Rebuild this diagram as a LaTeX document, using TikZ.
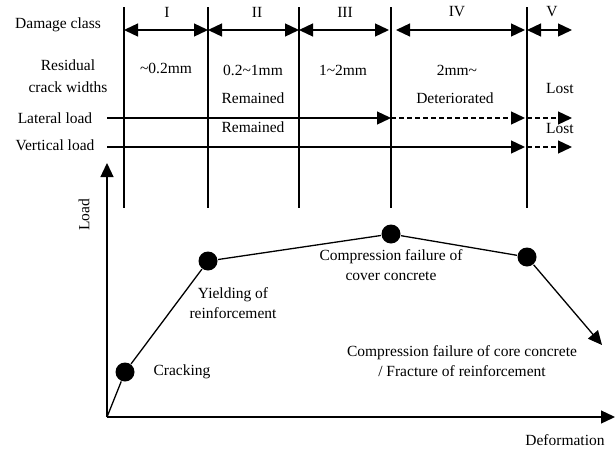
\documentclass[tikz,border=0pt]{standalone}
\usepackage{fontspec}
\setmainfont{Liberation Serif}
\usetikzlibrary{arrows.meta}

\begin{document}
\begin{tikzpicture}[x=1pt, y=-1pt, line width=1.3pt,
    every node/.style={font=\fontsize{15.5}{20}\selectfont, inner sep=0pt, align=center},
    tip/.style={-{Triangle[length=14pt,width=13pt]}},
    both/.style={{Triangle[length=14pt,width=13pt]}-{Triangle[length=14pt,width=13pt]}},
    dashline/.style={dash pattern=on 5pt off 3pt},
    dot/.style={circle, fill=black, minimum size=19pt}]
    \useasboundingbox (0,0) rectangle (616,450);

    % Class borders
    \foreach \x [count=\i] in {124,208,299,391,527} {
        \coordinate (t\i) at (\x,7);
        \coordinate (b\i) at (\x,208);
        \draw (t\i) -- (b\i);
    }

    % Damage class
    \node (dmg) at (58,25) {Damage class};
    \node (c1) at (167,12) {I};
    \node (c2) at (257,12) {II};
    \node (c3) at (345,12) {III};
    \node (c4) at (457,12) {IV};
    \node (c5) at (552,12) {V};
    \coordinate (a1) at (124,30);
    \coordinate (a2) at (208,30);
    \coordinate (a3) at (299,30);
    \coordinate (a3e) at (389,30);
    \coordinate (a4) at (396,30);
    \coordinate (a4e) at (525,30);
    \coordinate (a5) at (527,30);
    \coordinate (a5e) at (572,30);
    \draw[both] (a1) -- (a2);
    \draw[both] (a2) -- (a3);
    \draw[both] (a3) -- (a3e);
    \draw[both] (a4) -- (a4e);
    \draw[both] (a5) -- (a5e);

    % Residual crack widths
    \node[font=\fontsize{15.5}{22}\selectfont] (res) at (68,76) {Residual\\crack widths};
    \node (w1) at (166,68) {\textasciitilde0.2mm};
    \node (w2) at (253,70) {0.2\textasciitilde1mm};
    \node (w3) at (343,70) {1\textasciitilde2mm};
    \node (w4) at (457,70) {2mm\textasciitilde};
    \node (rem1) at (253,98) {Remained};
    \node (det) at (455,98) {Deteriorated};
    \node (lost1) at (560,88) {Lost};

    % Lateral load
    \node (lat) at (55,118) {Lateral load};
    \coordinate (l0) at (107,118);
    \coordinate (l1) at (391,118);
    \coordinate (l2) at (525,118);
    \coordinate (l3) at (527,118);
    \coordinate (l4) at (572,118);
    \draw[tip] (l0) -- (l1);
    \draw[tip, dashline] (l1) -- (l2);
    \draw[tip, dashline] (l3) -- (l4);

    % Vertical load
    \node (ver) at (55,145) {Vertical load};
    \node (rem2) at (253,127) {Remained};
    \node (lost2) at (560,128) {Lost};
    \coordinate (v0) at (107,147);
    \coordinate (v1) at (525,147);
    \coordinate (v2) at (527,147);
    \coordinate (v3) at (572,147);
    \draw[tip] (v0) -- (v1);
    \draw[tip, dashline] (v2) -- (v3);

    % Axes
    \coordinate (o) at (107,417);
    \coordinate (ytop) at (107,163);
    \coordinate (xend) at (615,417);
    \draw[tip] (o) -- (ytop);
    \draw[tip] (o) -- (xend);
    \node[rotate=90] (ylab) at (84,215) {Load};
    \node (xlab) at (565,440) {Deformation};

    % Load-deformation curve
    \node[dot] (crack) at (125,372) {};
    \node[dot] (yield) at (208,261) {};
    \node[dot] (peak) at (391,234) {};
    \node[dot] (soft) at (527,257) {};
    \coordinate (fail) at (602,345);
    \draw (o) -- (crack) -- (yield) -- (peak) -- (soft);
    \draw[tip] (soft) -- (fail);

    \node (crtxt) at (182,372) {Cracking};
    \node (yltxt) at (233,303) {Yielding of\\reinforcement};
    \node (pktxt) at (391,265) {Compression failure of\\cover concrete};
    \node (fltxt) at (462,361) {Compression failure of core concrete\\/ Fracture of reinforcement};
\end{tikzpicture}
\end{document}
